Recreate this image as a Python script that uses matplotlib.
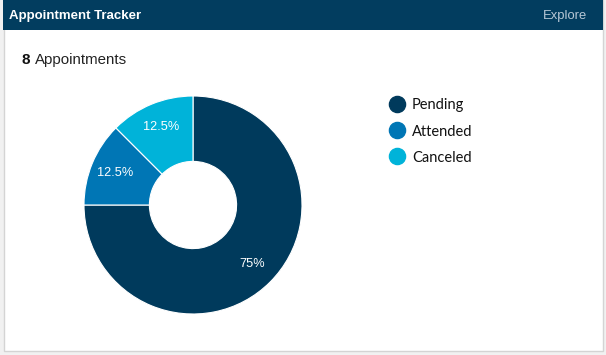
import matplotlib.pyplot as plt
from matplotlib.patches import Rectangle

# data
labels = ['Pending', 'Attended', 'Canceled']
counts = [6, 1, 1]
colors = ['#003a5c', '#0076b5', '#00b3d9']
title = 'Appointment Tracker'
total = sum(counts)

W, H = 606, 355
fig = plt.figure(figsize=(W / 100, H / 100), dpi=100)
fig.patch.set_facecolor('#f1f1f1')

# background canvas in pixel coords (y from top)
bg = fig.add_axes([0, 0, 1, 1])
bg.set_xlim(0, W)
bg.set_ylim(H, 0)
bg.axis('off')
bg.add_patch(Rectangle((3.5, 0), 599.5, 351, facecolor='white', edgecolor='#d4d4d4', lw=1))
bg.add_patch(Rectangle((3, 0), 600, 30, facecolor='#023d5f', edgecolor='none'))
bg.text(9, 16, title, color='white', fontsize=9.5, fontweight='bold',
        family='Liberation Sans', va='center', ha='left')
bg.text(587, 16, 'Explore', color='#b7c8d6', fontsize=9.4,
        family='Liberation Sans', va='center', ha='right')
bg.text(22, 60, str(total), color='#111111', fontsize=11, fontweight='bold',
        family='Liberation Sans', va='center', ha='left')
bg.text(35, 60, 'Appointments', color='#222222', fontsize=10.8,
        family='Liberation Sans', va='center', ha='left')

# legend
for i, (lab, c) in enumerate(zip(labels, colors)):
    y = 104 + i * 26
    bg.scatter([397], [y], s=135, color=c, zorder=3)
    bg.text(412, y + 1.5, lab, fontsize=10.5, family='Lato', color='#111111',
            va='center', ha='left')

# donut
cx, cy, r = 193, 205, 109
ax = fig.add_axes([(cx - r) / W, (H - cy - r) / H, 2 * r / W, 2 * r / H])
wedges, _, autotexts = ax.pie(counts, colors=colors, startangle=90, counterclock=False,
                              radius=1, autopct='%1.1f%%', pctdistance=0.77,
                              wedgeprops=dict(width=0.6, edgecolor='white', linewidth=0.8))
for t, v in zip(autotexts, counts):
    pct = 100 * v / total
    t.set_text(f'{pct:g}%')
    t.set_color('white')
    t.set_fontsize(9.2)
    t.set_family('Liberation Sans')
ax.set_xlim(-1, 1)
ax.set_ylim(-1, 1)

fig.savefig('out.png', dpi=100, facecolor=fig.get_facecolor())
